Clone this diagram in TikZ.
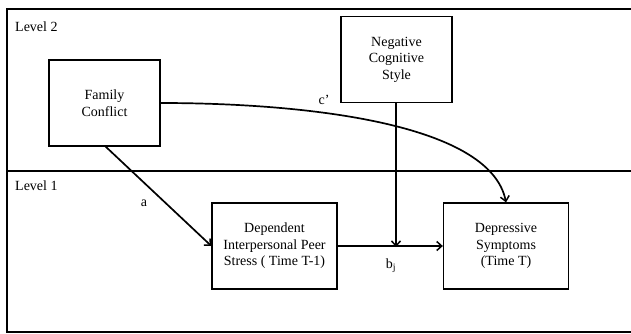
\documentclass[tikz,border=0pt]{standalone}
\usepackage{fontspec}
\setmainfont{Liberation Serif}
\usetikzlibrary{arrows.meta}
\begin{document}
\begin{tikzpicture}[x=1pt,y=-1pt,
  box/.style={draw,line width=1.3pt,minimum width=111pt,minimum height=86pt,align=center,font=\fontsize{14}{16.5}\selectfont,inner sep=2pt},
  box2/.style={box,minimum width=125pt},
  frame/.style={line width=1.3pt},
  conn/.style={line width=1.7pt,-{Straight Barb[length=5pt,width=9pt,line width=1.5pt]}},
  lbl/.style={font=\fontsize{14}{16}\selectfont,inner sep=0pt},
  lvl/.style={font=\fontsize{14}{16}\selectfont,anchor=west,inner sep=0pt}]
\useasboundingbox (0,0) rectangle (631,333);
% frame
\draw[frame] (631,9) -- (7,9) -- (7,332) -- (631,332);
\draw[frame] (7,171) -- (631,171);
\node[lvl] (lv2) at (15,27) {Level 2};
\node[lvl] (lv1) at (15,186) {Level 1};
% boxes
\node[box] (fc) at (104.5,103) {Family\\Conflict};
\node[box] (ncs) at (396.5,59.5) {Negative\\Cognitive\\Style};
\node[box2] (dip) at (274.5,246) {Dependent\\Interpersonal Peer\\Stress ( Time T-1)};
\node[box2] (ds) at (506,246) {Depressive\\Symptoms\\(Time T)};
% connectors
\coordinate (fcb) at (105,146);
\draw[conn] (fcb) -- (dip.west);
\draw[conn] (dip.east) -- (ds.west);
\coordinate (mod) at (396,247);
\draw[conn] (ncs.south -| mod) -- (mod);
\draw[conn] (fc.east) .. controls (300,103) and (490,122) .. (ds.north);
% labels
\node[lbl] (la) at (144,203) {a};
\node[lbl] (lc) at (324,100) {c\textquoteright};
\node[lbl] (lb) at (391,266) {b\textsubscript{j}};
\end{tikzpicture}
\end{document}
